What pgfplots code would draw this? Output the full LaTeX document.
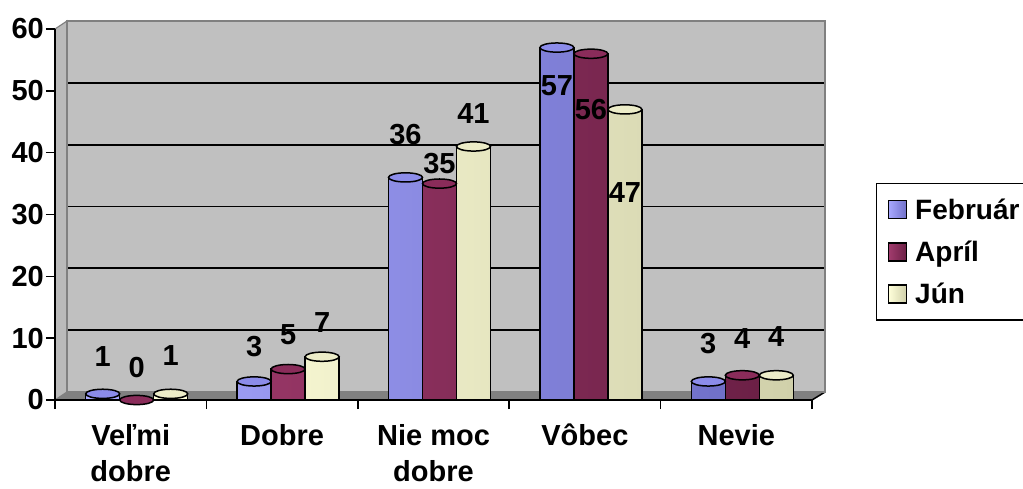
\documentclass[border=0pt]{standalone}
\usepackage{fontspec}
\setmainfont{Liberation Sans}
\usepackage{pgfplots}
\usepackage{pgfplotstable}
\pgfplotsset{compat=1.18}

\definecolor{wallgray}{HTML}{C0C0C0}
\definecolor{floorgray}{HTML}{808080}
\definecolor{sidegray}{HTML}{BABABA}
\definecolor{febL}{HTML}{A8A8FF}
\definecolor{febM}{HTML}{9494F2}
\definecolor{febD}{HTML}{7070C8}
\definecolor{febT}{HTML}{8C8CEA}
\definecolor{febF}{HTML}{9999FF}
\definecolor{aprL}{HTML}{A23C6E}
\definecolor{aprM}{HTML}{8E2D5C}
\definecolor{aprD}{HTML}{6C2046}
\definecolor{aprT}{HTML}{8A2C5A}
\definecolor{aprF}{HTML}{993366}
\definecolor{junL}{HTML}{FFFFDA}
\definecolor{junM}{HTML}{F8F8CC}
\definecolor{junD}{HTML}{D0D0AA}
\definecolor{junT}{HTML}{ECECC8}
\definecolor{junF}{HTML}{FFFFCC}

\newcommand{\bigbold}{\fontsize{29}{29}\selectfont\bfseries}

% elliptical cap of a cylinder
\pgfdeclareplotmark{cyltop}{%
  \pgfpathellipse{\pgfpointorigin}{\pgfqpoint{\pgfplotmarksize}{0pt}}{\pgfqpoint{0pt}{0.27\pgfplotmarksize}}%
  \pgfusepathqfillstroke}

\pgfplotstableread{
x feb apr jun fy ay jy
0 1 0 1 7.1 5.2 7.2
1 3 5 7 8.6 10.5 12.6
2 36 35 41 42.9 38.3 46.3
3 57 56 47 50.8 47.0 33.5
4 3 4 4 9.1 9.9 10.2
}\data

\begin{document}
\begin{tikzpicture}[x=1pt,y=1pt]
\path[use as bounding box] (0,0) rectangle (1023,488);

% floor and side panel
\fill[floorgray] (55,88) -- (812,88) -- (825,96) -- (67,96) -- cycle;
\filldraw[fill=sidegray, draw=floorgray, line width=1.2pt] (55,88) -- (67,96) -- (67,467) -- (55,459) -- cycle;
\draw[black, line width=1.5pt] (812,88) -- (825,96);

% back wall with grid
\begin{axis}[
  at={(67pt,96pt)}, anchor=south west,
  scale only axis, width=758pt, height=371pt,
  xmin=-0.5, xmax=4.5, ymin=0, ymax=60,
  xtick=\empty, ytick={10,20,...,50}, yticklabels={},
  major tick length=0pt,
  ymajorgrids, grid style={black, line width=1.8pt},
  axis background/.style={fill=wallgray},
  axis line style={draw=floorgray, line width=1.2pt},
]
\end{axis}

% front axis with the cylinders
\begin{axis}[
  at={(55pt,88pt)}, anchor=south west,
  scale only axis, width=757pt, height=371pt,
  xmin=-0.5, xmax=4.5, ymin=0, ymax=60,
  axis x line*=bottom, axis y line*=left,
  axis line style={black, line width=1.8pt},
  clip=false,
  tick align=outside,
  major tick length=9pt,
  tick style={black, line width=1.5pt},
  ytick={0,10,...,60},
  xtick={-0.5,0.5,...,4.5}, xticklabels={},
  extra x ticks={0,1,2,3,4},
  extra x tick labels={Veľmi\\dobre, Dobre, Nie moc\\dobre, Vôbec, Nevie},
  extra x tick style={major tick length=0pt,
    xticklabel style={align=center, anchor=north, inner sep=0pt, yshift=-24pt,
      font=\fontsize{29}{36}\selectfont\bfseries}},
  yticklabel style={font=\bigbold, inner sep=2pt},
  /pgf/number format/assume math mode=true,
  legend style={at={(1.0845,0.585)}, anchor=north west,
    draw=black, line width=1.5pt, font=\fontsize{28}{28}\selectfont\bfseries,
    inner xsep=11pt, inner ysep=13pt, row sep=16pt,
    cells={anchor=west}},
]
\addplot[ybar, bar width=34pt, bar shift=-28pt, draw=black, line width=1.5pt,
  left color=febL, middle color=febM, right color=febD,
  legend image code/.code={\draw[fill=febF, draw=black, line width=1.5pt] (0pt,-9pt) rectangle (18pt,9pt); \path (24pt,0pt);}]
  table[x=x, y=feb] {\data};
\addlegendentry{Február}
\addplot[ybar, bar width=34pt, bar shift=6pt, draw=black, line width=1.5pt,
  left color=aprL, middle color=aprM, right color=aprD,
  legend image code/.code={\draw[fill=aprF, draw=black, line width=1.5pt] (0pt,-9pt) rectangle (18pt,9pt); \path (24pt,0pt);}]
  table[x=x, y=apr] {\data};
\addlegendentry{Apríl}
\addplot[ybar, bar width=34pt, bar shift=40pt, draw=black, line width=1.5pt,
  left color=junL, middle color=junM, right color=junD,
  legend image code/.code={\draw[fill=junF, draw=black, line width=1.5pt] (0pt,-9pt) rectangle (18pt,9pt); \path (24pt,0pt);}]
  table[x=x, y=jun] {\data};
\addlegendentry{Jún}

% cylinder caps
\addplot[forget plot, only marks, mark=cyltop, mark size=17pt,
  mark options={xshift=-28pt, fill=febT, draw=black, line width=1.5pt}]
  table[x=x, y=feb] {\data};
\addplot[forget plot, only marks, mark=cyltop, mark size=17pt,
  mark options={xshift=6pt, fill=aprT, draw=black, line width=1.5pt}]
  table[x=x, y=apr] {\data};
\addplot[forget plot, only marks, mark=cyltop, mark size=17pt,
  mark options={xshift=40pt, fill=junT, draw=black, line width=1.5pt}]
  table[x=x, y=jun] {\data};

% value labels
\addplot[forget plot, draw=none, mark=none, nodes near coords, point meta=explicit symbolic,
  every node near coord/.style={font=\bigbold, anchor=center, inner sep=0pt, xshift=-28pt, text=black}]
  table[x=x, y=fy, meta=feb] {\data};
\addplot[forget plot, draw=none, mark=none, nodes near coords, point meta=explicit symbolic,
  every node near coord/.style={font=\bigbold, anchor=center, inner sep=0pt, xshift=6pt, text=black}]
  table[x=x, y=ay, meta=apr] {\data};
\addplot[forget plot, draw=none, mark=none, nodes near coords, point meta=explicit symbolic,
  every node near coord/.style={font=\bigbold, anchor=center, inner sep=0pt, xshift=40pt, text=black}]
  table[x=x, y=jy, meta=jun] {\data};
\end{axis}
\end{tikzpicture}
\end{document}
